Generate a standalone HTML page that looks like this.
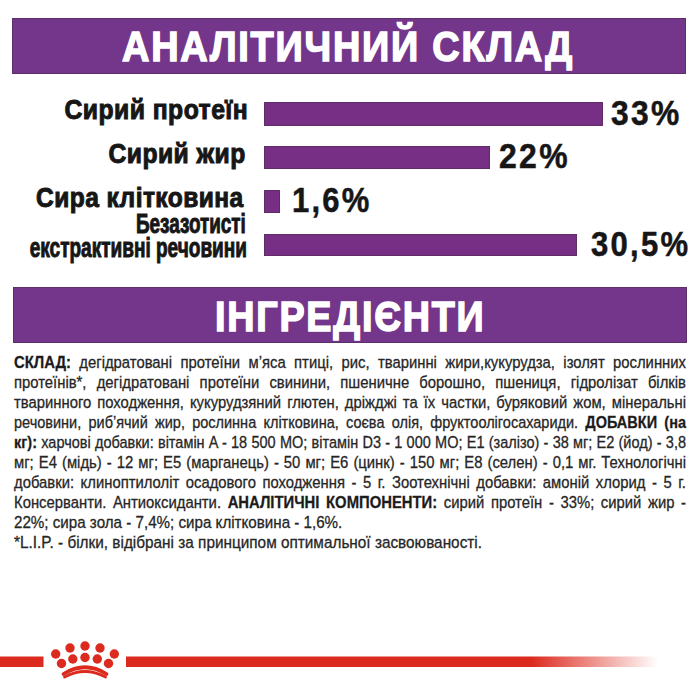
<!DOCTYPE html>
<html><head><meta charset="utf-8"><style>
html,body{margin:0;padding:0;background:#fff;width:700px;height:700px;overflow:hidden;position:relative}
body{font-family:"Liberation Sans",sans-serif}
.t{position:absolute;white-space:pre;font-weight:700}
.bar{position:absolute;background:#74368a;box-shadow:inset 0 0 0 1px rgba(60,40,60,0.4)}
.bar2{position:absolute;background:#772f86;box-shadow:inset 0 0 0 1px rgba(60,40,60,0.4)}
.ln{position:absolute;left:14px;font-size:16.8px;line-height:20px;color:#262626;text-align:justify;text-align-last:justify;transform-origin:left top;white-space:normal;-webkit-text-stroke:0.3px #262626}
.ln b{font-weight:700;color:#1a1a1a}
</style></head><body>
<div class="bar" style="left:12px;top:17.5px;width:674.00px;height:56.80px"></div>
<div class="bar" style="left:13px;top:287px;width:674.00px;height:56.00px"></div>
<div class="bar2" style="left:264px;top:102.3px;width:339.00px;height:23.30px"></div>
<div class="bar2" style="left:264px;top:146.4px;width:225.70px;height:22.60px"></div>
<div class="bar2" style="left:264px;top:190.2px;width:16.30px;height:22.40px"></div>
<div class="bar2" style="left:264px;top:233.8px;width:313.00px;height:22.70px"></div>
<div class="t" style="left:122.37px;top:26.47px;font-size:42.5px;line-height:42.5px;color:#fff;transform:scaleX(0.8914);transform-origin:left top;letter-spacing:2px;-webkit-text-stroke:1.5px #fff;">АНАЛІТИЧНИЙ СКЛАД</div>
<div class="t" style="left:215.35px;top:295.67px;font-size:42.5px;line-height:42.5px;color:#fff;transform:scaleX(0.8873);transform-origin:left top;letter-spacing:2px;-webkit-text-stroke:1.5px #fff;">ІНГРЕДІЄНТИ</div>
<div class="t" style="right:452.61px;top:95.92px;font-size:27.5px;line-height:27.5px;color:#161616;transform:scaleX(0.8995);transform-origin:right top;letter-spacing:0.5px;-webkit-text-stroke:1.0px #161616;margin-right:-0.5px;">Сирий протеїн</div>
<div class="t" style="right:454.30px;top:140.22px;font-size:27.5px;line-height:27.5px;color:#161616;transform:scaleX(0.8985);transform-origin:right top;letter-spacing:0.5px;-webkit-text-stroke:1.0px #161616;margin-right:-0.5px;">Сирий жир</div>
<div class="t" style="right:456.59px;top:184.22px;font-size:27.5px;line-height:27.5px;color:#161616;transform:scaleX(0.8921);transform-origin:right top;letter-spacing:0.5px;-webkit-text-stroke:1.0px #161616;margin-right:-0.5px;">Сира клітковина</div>
<div class="t" style="right:453.82px;top:210.42px;font-size:27.5px;line-height:27.5px;color:#161616;transform:scaleX(0.6873);transform-origin:right top;-webkit-text-stroke:1.0px #161616;">Безазотисті</div>
<div class="t" style="right:453.01px;top:234.22px;font-size:27.5px;line-height:27.5px;color:#161616;transform:scaleX(0.6920);transform-origin:right top;-webkit-text-stroke:1.0px #161616;">екстрактивні речовини</div>
<div class="t" style="left:611.10px;top:95.56px;font-size:34.3px;line-height:34.3px;color:#161616;transform:scaleX(0.9253);transform-origin:left top;letter-spacing:2.5px;-webkit-text-stroke:0.5px #161616;">33%</div>
<div class="t" style="left:499.30px;top:139.31px;font-size:34.3px;line-height:34.3px;color:#161616;transform:scaleX(0.9303);transform-origin:left top;letter-spacing:2.5px;-webkit-text-stroke:0.5px #161616;">22%</div>
<div class="t" style="left:291.68px;top:183.31px;font-size:34.3px;line-height:34.3px;color:#161616;transform:scaleX(0.9031);transform-origin:left top;letter-spacing:2.5px;-webkit-text-stroke:0.5px #161616;">1,6%</div>
<div class="t" style="left:590.91px;top:226.81px;font-size:34.3px;line-height:34.3px;color:#161616;transform:scaleX(0.9047);transform-origin:left top;letter-spacing:2.5px;-webkit-text-stroke:0.5px #161616;">30,5%</div>
<div class="ln" style="top:352.88px;width:760.27px;word-spacing:-3px;transform:scaleX(0.8839)"><b>СКЛАД:</b> дегідратовані протеїни м’яса птиці, рис, тваринні жири,кукурудза, ізолят рослинних</div>
<div class="ln" style="top:372.88px;width:760.27px;word-spacing:-3px;transform:scaleX(0.8839)">протеїнів*, дегідратовані протеїни свинини, пшеничне борошно, пшениця, гідролізат білків</div>
<div class="ln" style="top:392.88px;width:760.27px;word-spacing:-3px;transform:scaleX(0.8839)">тваринного походження, кукурудзяний глютен, дріжджі та їх частки, буряковий жом, мінеральні</div>
<div class="ln" style="top:412.88px;width:777.24px;word-spacing:-3px;transform:scaleX(0.8646)">речовини, риб’ячий жир, рослинна клітковина, соєва олія, фруктоолігосахариди. <b>ДОБАВКИ (на</b></div>
<div class="ln" style="top:432.88px;width:777.24px;word-spacing:-3px;transform:scaleX(0.8646)"><b>кг):</b> харчові добавки: вітамін A - 18 500 МО; вітамін D3 - 1 000 МО; E1 (залізо) - 38 мг; E2 (йод) - 3,8</div>
<div class="ln" style="top:452.88px;width:760.27px;word-spacing:-3px;transform:scaleX(0.8839)">мг; E4 (мідь) - 12 мг; E5 (марганець) - 50 мг; E6 (цинк) - 150 мг; E8 (селен) - 0,1 мг. Технологічні</div>
<div class="ln" style="top:472.88px;width:760.27px;word-spacing:-3px;transform:scaleX(0.8839)">добавки: клиноптилоліт осадового походження - 5 г. Зоотехнічні добавки: амоній хлорид - 5 г.</div>
<div class="ln" style="top:492.88px;width:760.27px;word-spacing:-3px;transform:scaleX(0.8839)">Консерванти. Антиоксиданти. <b>АНАЛІТИЧНІ КОМПОНЕНТИ:</b> сирий протеїн - 33%; сирий жир -</div>
<div class="ln" style="top:512.88px;white-space:pre;text-align-last:auto;transform:scaleX(0.9032)">22%; сира зола - 7,4%; сира клітковина - 1,6%.</div>
<div class="ln" style="top:532.88px;white-space:pre;text-align-last:auto;transform:scaleX(0.9139)">*L.I.P. - білки, відібрані за принципом оптимальної засвоюваності.</div>
<svg style="position:absolute;left:0;top:0" width="700" height="700" viewBox="0 0 700 700">
<defs><linearGradient id="fade" x1="0" x2="1" y1="0" y2="0"><stop offset="0" stop-color="#dc2a1e"/><stop offset="1" stop-color="#dc2a1e" stop-opacity="0"/></linearGradient></defs>
<rect x="0" y="656.5" width="43.5" height="10.5" fill="#dc2a1e"/>
<rect x="126" y="656.5" width="405" height="10.5" fill="#dc2a1e"/>
<rect x="531" y="656.5" width="127" height="10.5" fill="url(#fade)"/>
<circle cx="55.7" cy="654" r="4.7" fill="#dc2a1e"/>
<circle cx="70" cy="648" r="4.7" fill="#dc2a1e"/>
<circle cx="85" cy="646" r="4.7" fill="#dc2a1e"/>
<circle cx="100" cy="648" r="4.7" fill="#dc2a1e"/>
<circle cx="114.3" cy="654" r="4.7" fill="#dc2a1e"/>
<circle cx="61.5" cy="663.5" r="4.7" fill="#dc2a1e"/>
<circle cx="72.8" cy="659" r="4.7" fill="#dc2a1e"/>
<circle cx="85" cy="657.5" r="4.7" fill="#dc2a1e"/>
<circle cx="97.3" cy="659" r="4.7" fill="#dc2a1e"/>
<circle cx="108.5" cy="663.5" r="4.7" fill="#dc2a1e"/>
<path d="M63.5 674 Q85 660.5 106.5 674" stroke="#dc2a1e" stroke-width="3.8" fill="none" stroke-linecap="round"/>
<path d="M64.5 677 Q85 666 105.5 677" stroke="#dc2a1e" stroke-width="2.8" fill="none" stroke-linecap="round"/>
</svg>
</body></html>
